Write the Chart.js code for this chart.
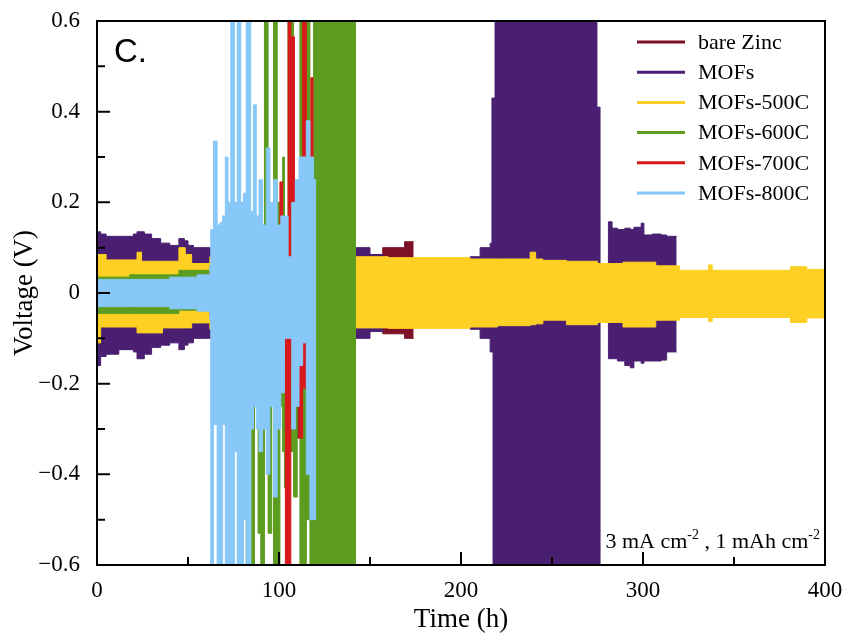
<!DOCTYPE html>
<html>
<head>
<meta charset="utf-8">
<script src="https://cdn.jsdelivr.net/npm/chart.js@4.4.0/dist/chart.umd.min.js"></script>
<style>
  body { margin: 0; background: #fff; }
</style>
</head>
<body>
<canvas id="c" width="843" height="633"></canvas>
<script>
// series names (legend order)
const seriesNames = ['bare Zinc', 'MOFs', 'MOFs-500C', 'MOFs-600C', 'MOFs-700C', 'MOFs-800C'];

// envelope of each cycling trace:
// time (h), upper and lower voltage (V); each value holds until the next time
const zincT  = [0, 62, 109.5, 111.5, 140, 150, 157, 169, 174];
const zincHi = [0.02, 0.05, 0.05, 0.05, 0.07, 0.075, 0.1, 0.113, 0.113];
const zincLo = [-0.02, -0.05, -0.32, -0.05, -0.07, -0.075, -0.09, -0.1, -0.1];

const mofsT  = [0, 2, 5, 12, 20, 22, 26, 30, 35, 40, 45, 48, 50, 53, 62, 142, 150, 157, 205, 210.5,
                216, 217, 217.6, 218.7, 274.7, 276.4, 281, 283, 286, 290, 293, 295, 299, 300.5, 305, 310, 313, 318.5];
const mofsHi = [0.135, 0.13, 0.125, 0.125, 0.13, 0.135, 0.13, 0.12, 0.11, 0.105, 0.12, 0.115, 0.105, 0.1, 0.1, 0.1, 0.085, 0.075, 0.08, 0.1,
                0.11, 0.43, 0.43, 0.6, 0.41, 0.06, 0.157, 0.143, 0.14, 0.143, 0.14, 0.145, 0.154, 0.128, 0.13, 0.128, 0.125, 0.125];
const mofsLo = [-0.16, -0.14, -0.135, -0.125, -0.13, -0.145, -0.135, -0.12, -0.115, -0.11, -0.125, -0.115, -0.11, -0.1, -0.1, -0.1, -0.085, -0.075, -0.08, -0.1,
                -0.13, -0.13, -0.6, -0.6, -0.6, -0.06, -0.145, -0.145, -0.15, -0.16, -0.165, -0.15, -0.155, -0.15, -0.15, -0.148, -0.13, -0.13];

const m500T  = [0, 2, 5, 22, 24.5, 36, 45, 48.5, 52, 62, 142, 160, 205, 220, 238, 241, 245, 258, 275, 289, 307, 320, 336, 338, 381, 390, 400];
const m500Hi = [0.085, 0.085, 0.073, 0.09, 0.07, 0.07, 0.1, 0.085, 0.065, 0.08, 0.08, 0.078, 0.075, 0.075, 0.09, 0.075, 0.072, 0.07, 0.065, 0.068,
                0.06, 0.05, 0.062, 0.05, 0.058, 0.052, 0.052];
const m500Lo = [-0.11, -0.075, -0.075, -0.088, -0.088, -0.077, -0.077, -0.077, -0.066, -0.08, -0.077, -0.078, -0.075, -0.072, -0.07, -0.068, -0.06, -0.07, -0.065, -0.075,
                -0.06, -0.054, -0.063, -0.054, -0.065, -0.055, -0.055];

const m600T  = [0, 18, 45, 62, 82, 83.5, 85, 86.5, 88.5, 90, 92, 94, 96, 97, 99, 100.5, 102, 103, 105, 108, 110, 111.5, 115, 117, 119, 142.3];
const m600Hi = [0.035, 0.04, 0.05, 0.06, 0.06, 0.06, 0.06, 0.06, 0.145, 0.06, 0.6, 0.06, 0.06, 0.6, 0.2, 0.2, 0.3, 0.06, 0.6, 0.2,
                0.06, 0.6, 0.6, 0.3, 0.6, 0.6];
const m600Lo = [-0.045, -0.045, -0.038, -0.05, -0.6, -0.12, -0.6, -0.15, -0.53, -0.6, -0.2, -0.53, -0.2, -0.6, -0.6, -0.25, -0.35, -0.43, -0.35, -0.45,
                -0.25, -0.6, -0.5, -0.6, -0.6, -0.6];

const m700T  = [0, 62, 100.5, 102, 103.5, 105, 106.5, 108.5, 111, 113, 115, 117.5, 118.7, 119.5];
const m700Hi = [0.025, 0.05, 0.245, 0.05, 0.05, 0.6, 0.565, 0.05, 0.05, 0.6, 0.05, 0.475, 0.05, 0.05];
const m700Lo = [-0.025, -0.05, -0.05, -0.16, -0.6, -0.6, -0.16, -0.05, -0.32, -0.21, -0.15, -0.12, -0.05, -0.05];

const m800T  = [0, 20, 40, 55, 62, 62.5, 64, 66, 67.5, 69, 70.5, 72, 73.5, 75.5, 77, 79, 80.5, 82, 84.5, 86,
                87.5, 89, 91, 93, 95, 97, 99, 101, 103, 105, 107, 109, 111, 113, 115, 117, 119, 120.5];
const m800Hi = [0.03, 0.03, 0.035, 0.04, 0.06, 0.14, 0.335, 0.15, 0.155, 0.17, 0.3, 0.2, 0.6, 0.2, 0.6, 0.2, 0.22, 0.6, 0.18, 0.415,
                0.17, 0.25, 0.15, 0.32, 0.2, 0.25, 0.15, 0.17, 0.17, 0.08, 0.2, 0.25, 0.3, 0.3, 0.38, 0.3, 0.25, 0.25];
const m800Lo = [-0.03, -0.03, -0.035, -0.04, -0.06, -0.6, -0.29, -0.6, -0.6, -0.29, -0.6, -0.6, -0.6, -0.35, -0.6, -0.6, -0.5, -0.6, -0.3, -0.25,
                -0.3, -0.35, -0.3, -0.4, -0.25, -0.45, -0.3, -0.22, -0.1, -0.1, -0.3, -0.25, -0.16, -0.11, -0.4, -0.5, -0.5, -0.5];

const xTickMajor = [0, 100, 200, 300, 400];
const xTickMinor = [50, 150, 250, 350];
const yTickMajor = [-0.6, -0.4, -0.2, 0, 0.2, 0.4, 0.6];
const yTickMinor = [-0.5, -0.3, -0.1, 0.1, 0.3, 0.5];

const colors = ['#7d1128', '#4a1f72', '#fdd023', '#5c9c1f', '#d7191c', '#87c8f8'];

const serif = 'Liberation Serif, Times New Roman, serif';

// top-most first (chart.js draws dataset 0 last)
const bands = [
  [5, m800T, m800Hi, m800Lo],
  [4, m700T, m700Hi, m700Lo],
  [3, m600T, m600Hi, m600Lo],
  [2, m500T, m500Hi, m500Lo],
  [1, mofsT, mofsHi, mofsLo],
  [0, zincT, zincHi, zincLo]
];

const toPts = (T, V) => T.map((t, i) => ({ x: t, y: V[i] }));

const datasets = [];
bands.forEach(([k, T, hi, lo]) => {
  const common = {
    borderColor: colors[k],
    backgroundColor: colors[k],
    borderWidth: 1,
    pointRadius: 0,
    stepped: true
  };
  datasets.push({ ...common, label: seriesNames[k], data: toPts(T, hi), fill: '+1' });
  datasets.push({ ...common, label: '', data: toPts(T, lo), fill: false });
});

// ticks inward, frame, legend, labels
const decor = {
  id: 'decor',
  afterDraw(chart) {
    const { ctx, chartArea: a, scales: { x, y } } = chart;
    ctx.save();
    ctx.strokeStyle = '#000';
    ctx.lineWidth = 2;
    ctx.strokeRect(a.left, a.top, a.right - a.left, a.bottom - a.top);

    ctx.beginPath();
    xTickMajor.forEach(v => { const p = x.getPixelForValue(v); ctx.moveTo(p, a.bottom); ctx.lineTo(p, a.bottom - 13); });
    xTickMinor.forEach(v => { const p = x.getPixelForValue(v); ctx.moveTo(p, a.bottom); ctx.lineTo(p, a.bottom - 8); });
    yTickMajor.forEach(v => { const p = y.getPixelForValue(v); ctx.moveTo(a.left, p); ctx.lineTo(a.left + 13, p); });
    yTickMinor.forEach(v => { const p = y.getPixelForValue(v); ctx.moveTo(a.left, p); ctx.lineTo(a.left + 8, p); });
    ctx.stroke();

    // legend
    ctx.font = '22px ' + serif;
    ctx.textBaseline = 'middle';
    ctx.textAlign = 'left';
    seriesNames.forEach((name, i) => {
      const yy = 42 + i * 30.2;
      ctx.strokeStyle = colors[i];
      ctx.lineWidth = 3;
      ctx.beginPath();
      ctx.moveTo(637, yy);
      ctx.lineTo(685, yy);
      ctx.stroke();
      ctx.fillStyle = '#000';
      ctx.fillText(name, 698, yy + 1);
    });

    // panel label
    ctx.font = '33px Liberation Sans, Arial, sans-serif';
    ctx.textBaseline = 'alphabetic';
    ctx.fillText('C.', 114, 62);

    // test condition
    const parts = [['3 mA cm', 22, 0], ['-2', 14, -9], [' , 1 mAh cm', 22, 0], ['-2', 14, -9]];
    let w = 0;
    parts.forEach(p => { ctx.font = p[1] + 'px ' + serif; w += ctx.measureText(p[0]).width; });
    let xx = 820 - w;
    parts.forEach(p => {
      ctx.font = p[1] + 'px ' + serif;
      ctx.fillText(p[0], xx, 548 + p[2]);
      xx += ctx.measureText(p[0]).width;
    });
    ctx.restore();
  }
};

const fmt = v => Math.abs(v) < 1e-9 ? '0' : v.toFixed(1).replace('-', '\u2212');

new Chart(document.getElementById('c'), {
  type: 'line',
  data: { datasets },
  options: {
    responsive: false,
    animation: false,
    layout: { padding: { top: 21, right: 18, left: 0, bottom: 0 } },
    plugins: { legend: { display: false }, tooltip: { enabled: false } },
    scales: {
      x: {
        type: 'linear', min: 0, max: 400,
        grid: { display: false }, border: { display: false },
        ticks: { stepSize: 100, padding: 4, maxRotation: 0, color: '#000', font: { family: serif, size: 23 } },
        title: { display: true, text: 'Time (h)', color: '#000', font: { family: serif, size: 27, lineHeight: 1 }, padding: { top: 0, bottom: 0 } },
        afterFit: s => { s.height = 68; s.paddingLeft = 0; s.paddingRight = 0; }
      },
      y: {
        min: -0.6, max: 0.6,
        grid: { display: false }, border: { display: false },
        ticks: { stepSize: 0.2, padding: 9, color: '#000', font: { family: serif, size: 23 }, callback: fmt },
        title: { display: true, text: 'Voltage (V)', color: '#000', font: { family: serif, size: 27, lineHeight: 1 }, padding: { top: 11, bottom: 0 } },
        afterFit: s => { s.width = 97; s.paddingTop = 0; s.paddingBottom = 0; }
      }
    }
  },
  plugins: [decor]
});
</script>
</body>
</html>
